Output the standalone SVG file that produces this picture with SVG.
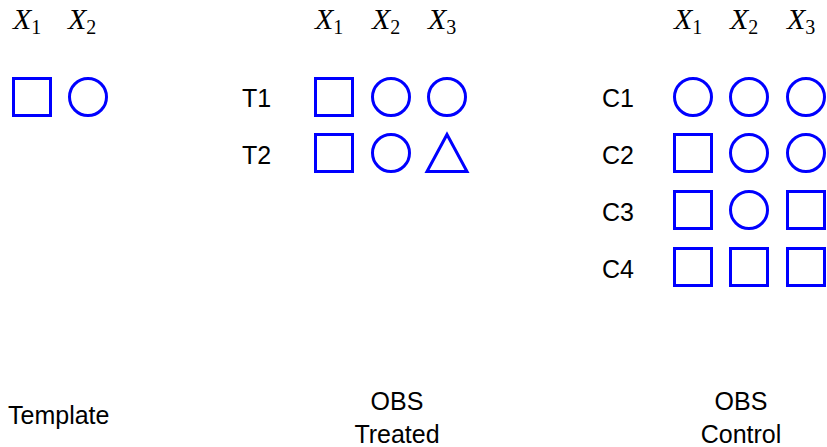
<svg xmlns="http://www.w3.org/2000/svg" width="827" height="447" viewBox="0 0 827 447">
<style>
.s{fill:none;stroke:#0000ff;stroke-width:3}
.l{font-family:"Liberation Sans",Arial,sans-serif;font-size:25px;fill:#000}
.m{font-family:"Liberation Serif","Times New Roman",serif;font-size:30px;font-style:italic;fill:#000}
.sub{font-style:normal;font-size:20px}
</style>
<rect width="827" height="447" fill="#fff"/>
<defs>
<rect id="sq" class="s" x="-18.5" y="-18.5" width="37" height="37"/>
<circle id="ci" class="s" r="18.5"/>
<polygon id="tr" class="s" points="0,-18.5 20,18.5 -20,18.5"/>
</defs>
<g id="headers">
<text class="m" x="13" y="29">X<tspan class="sub" dy="5">1</tspan></text>
<text class="m" x="68" y="29">X<tspan class="sub" dy="5">2</tspan></text>
<text class="m" x="315" y="29">X<tspan class="sub" dy="5">1</tspan></text>
<text class="m" x="372" y="29">X<tspan class="sub" dy="5">2</tspan></text>
<text class="m" x="428" y="29">X<tspan class="sub" dy="5">3</tspan></text>
<text class="m" x="674" y="29">X<tspan class="sub" dy="5">1</tspan></text>
<text class="m" x="730" y="29">X<tspan class="sub" dy="5">2</tspan></text>
<text class="m" x="787" y="29">X<tspan class="sub" dy="5">3</tspan></text>
</g>
<g id="template">
<use href="#sq" x="32" y="97"/>
<use href="#ci" x="88" y="97"/>
<text class="l" x="8" y="424">Template</text>
</g>
<g id="treated">
<text class="l" x="242" y="107">T1</text>
<use href="#sq" x="334" y="97"/>
<use href="#ci" x="391" y="97"/>
<use href="#ci" x="447" y="97"/>
<text class="l" x="242" y="164">T2</text>
<use href="#sq" x="334" y="153"/>
<use href="#ci" x="391" y="153"/>
<use href="#tr" x="447" y="153"/>
<text class="l" x="397" y="410" text-anchor="middle">OBS</text>
<text class="l" x="397" y="443" text-anchor="middle">Treated</text>
</g>
<g id="control">
<text class="l" x="602" y="107">C1</text>
<use href="#ci" x="693" y="97"/>
<use href="#ci" x="749" y="97"/>
<use href="#ci" x="806" y="97"/>
<text class="l" x="602" y="164">C2</text>
<use href="#sq" x="693" y="153"/>
<use href="#ci" x="749" y="153"/>
<use href="#ci" x="806" y="153"/>
<text class="l" x="602" y="221">C3</text>
<use href="#sq" x="693" y="210"/>
<use href="#ci" x="749" y="210"/>
<use href="#sq" x="806" y="210"/>
<text class="l" x="602" y="278">C4</text>
<use href="#sq" x="693" y="267"/>
<use href="#sq" x="749" y="267"/>
<use href="#sq" x="806" y="267"/>
<text class="l" x="741" y="410" text-anchor="middle">OBS</text>
<text class="l" x="741" y="443" text-anchor="middle">Control</text>
</g>
<g id="connectors"/>
</svg>
